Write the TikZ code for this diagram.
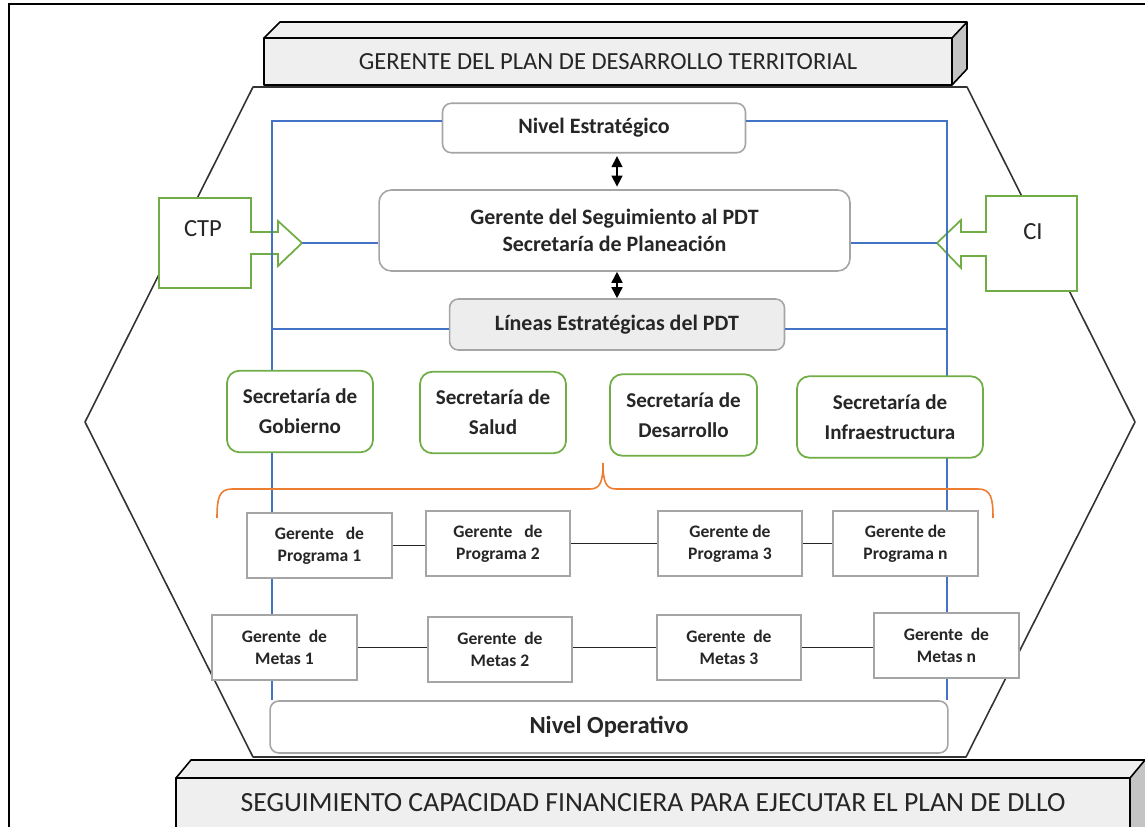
\documentclass[tikz,border=0pt]{standalone}
\usepackage{fontspec}
\setmainfont{Carlito}
\usepackage{xcolor}
\usetikzlibrary{arrows.meta,positioning,calc}

\definecolor{lineblue}{HTML}{4472C4}
\definecolor{boxgreen}{HTML}{70AD47}
\definecolor{braceorange}{HTML}{ED7D31}
\definecolor{boxgray}{HTML}{A5A5A5}
\definecolor{fillgray}{HTML}{EDEDED}
\definecolor{barfill}{HTML}{EFEFEF}
\definecolor{barside}{HTML}{C4C4C4}
\definecolor{textdark}{HTML}{262626}

\begin{document}
\begin{tikzpicture}[
    x=0.02cm, y=-0.02cm,
    text=textdark,
    level/.style={rectangle, draw=boxgray, line width=0.9pt, fill=white, rounded corners=5pt,
        align=center, font=\fontsize{12.5}{15}\selectfont\bfseries, inner sep=0pt},
    secbox/.style={rectangle, draw=boxgreen, line width=1pt, fill=white, rounded corners=7pt,
        align=center, font=\fontsize{12}{17}\selectfont\bfseries, minimum height=1.63cm, inner sep=0pt},
    gerbox/.style={rectangle, draw=boxgray, line width=0.9pt, fill=white,
        align=center, font=\fontsize{10}{12.5}\selectfont\bfseries, minimum width=2.89cm, minimum height=1.3cm, inner sep=0pt},
    bartext/.style={font=\fontsize{14}{16}\selectfont, inner sep=0pt},
    barline/.style={draw=black, line width=0.9pt, line join=round},
    blueline/.style={lineblue, line width=0.7pt},
    link/.style={black!85, line width=0.9pt},
    inarrow/.style={draw=boxgreen, line width=1pt, fill=white},
    dblarrow/.style={{Triangle[length=2.2mm,width=2.2mm]}-{Triangle[length=2.2mm,width=2.2mm]}, line width=0.9pt, black}
]
\useasboundingbox (0,0) rectangle (1145,827);
\clip (0,0) rectangle (1145,827);

% frame and hexagon
\draw[line width=1.4pt] (9,827) -- (9,4) -- (1145,4);
\draw[black!80, line width=0.9pt, line join=round]
    (253,87) -- (967,87) -- (1135,422) -- (966,757) -- (253,757) -- (85,422) -- cycle;

% top bar
\fill[barfill] (264,38) -- (280,22) -- (967,22) -- (952,38) -- cycle;
\fill[barside] (952,38) -- (967,22) -- (967,69) -- (952,85) -- cycle;
\draw[barline, fill=barfill] (264,38) rectangle (952,85);
\draw[barline] (264,38) -- (280,22) -- (967,22) -- (967,69) -- (952,85);
\draw[barline] (952,38) -- (967,22);
\node[bartext] (topbar) at (608,62) {GERENTE DEL PLAN DE DESARROLLO TERRITORIAL};

% bottom bar
\fill[barfill] (176,778) -- (191,760) -- (1145,760) -- (1130,778) -- cycle;
\fill[barside] (1130,778) -- (1145,760) -- (1145,840) -- (1130,840) -- cycle;
\draw[barline, fill=barfill] (176,778) rectangle (1130,840);
\draw[barline] (176,778) -- (191,760) -- (1145,760);
\draw[barline] (1130,778) -- (1145,760);
\node[bartext, font=\fontsize{15.8}{18}\selectfont] (botbar) at (653,803)
    {SEGUIMIENTO CAPACIDAD FINANCIERA PARA EJECUTAR EL PLAN DE DLLO};

% CTP and CI
\draw[inarrow] (159,198) -- (251,198) -- (251,232) -- (278,232) -- (278,221) -- (302,243)
    -- (278,266) -- (278,254) -- (251,254) -- (251,288) -- (159,288) -- cycle;
\draw[inarrow] (1077,196) -- (986,196) -- (986,232) -- (961,232) -- (961,220) -- (937,243)
    -- (961,268) -- (961,256) -- (986,256) -- (986,291) -- (1077,291) -- cycle;
\node[bartext] (ctp) at (203,229) {CTP};
\node[bartext] (ci) at (1033,232) {CI};
\coordinate (ctptip) at (302,243);
\coordinate (citip) at (937,243);

% levels
\node[level, minimum width=6.06cm, minimum height=0.99cm] (nivel) at (594,128) {Nivel Estratégico};
\node[level, minimum width=9.42cm, minimum height=1.62cm, rounded corners=7pt] (gerente) at (614.5,230.5)
    {Gerente del Seguimiento al PDT\\Secretaría de Planeación};
\node[level, fill=fillgray, minimum width=6.7cm, minimum height=1.02cm] (lineas) at (617,324.5)
    {Líneas Estratégicas del PDT};
\node[level, minimum width=13.56cm, minimum height=1.04cm, font=\fontsize{14}{16}\selectfont\bfseries]
    (operativo) at (609,727) {Nivel Operativo};

% blue frame lines
\coordinate (tl) at (272,121);
\coordinate (tr) at (947,121);
\coordinate (ll) at (272,329);
\coordinate (lr) at (947,329);
\draw[blueline] (nivel.west |- tl) -- (tl) -- (operativo.north -| tl);
\draw[blueline] (nivel.east |- tr) -- (tr) -- (operativo.north -| tr);
\draw[blueline] (ctptip) -- (gerente.west |- ctptip);
\draw[blueline] (gerente.east |- citip) -- (citip);
\draw[blueline] (ll) -- (lineas.west |- ll);
\draw[blueline] (lineas.east |- lr) -- (lr);

% arrows between levels
\coordinate (ax) at (617,0);
\draw[dblarrow, shorten <=1.5pt, shorten >=1.5pt] (nivel.south -| ax) -- (gerente.north -| ax);
\draw[dblarrow] (gerente.south -| ax) -- (lineas.north -| ax);

% secretarias
\node[secbox, minimum width=2.92cm] (gob) at (300,411.5) {Secretaría de\\Gobierno};
\node[secbox, minimum width=2.92cm] (sal) at (493,412.5) {Secretaría de\\Salud};
\node[secbox, minimum width=2.94cm] (des) at (683.5,415) {Secretaría de\\Desarrollo};
\node[secbox, minimum width=3.72cm] (inf) at (890,417) {Secretaría de\\Infraestructura};

% brace
\draw[braceorange, line width=0.9pt] (217,518) .. controls (217,498) and (219,489) .. (232,489)
    -- (590,489) .. controls (600,489) and (603,482) .. (603,463)
    .. controls (603,482) and (606,489) .. (616,489)
    -- (978,489) .. controls (991,489) and (993,498) .. (993,518);

% gerentes de programa
\node[gerbox] (prog1) at (319.5,545.5) {Gerente\ \ \ de\\Programa 1};
\node[gerbox] (prog2) at (498,543.5) {Gerente\ \ \ de\\Programa 2};
\node[gerbox] (prog3) at (730,543.5) {Gerente de\\Programa 3};
\node[gerbox] (progn) at (905.5,543.5) {Gerente de\\Programa n};
\draw[link] (prog1.east) -- (prog2.west |- prog1.east);
\draw[link] (prog2.east) -- (prog3.west);
\draw[link] (prog3.east) -- (progn.west);

% gerentes de metas
\node[gerbox] (meta1) at (284.5,647.5) {Gerente\ \ de\\Metas 1};
\node[gerbox] (meta2) at (500,649.5) {Gerente\ \ de\\Metas 2};
\node[gerbox] (meta3) at (729,647.5) {Gerente\ \ de\\Metas 3};
\node[gerbox] (metan) at (946.5,645.5) {Gerente\ \ de\\Metas n};
\draw[link] (meta1.east) -- (meta2.west |- meta1.east);
\draw[link] (meta2.east |- meta1.east) -- (meta3.west);
\draw[link] (meta3.east) -- (metan.west |- meta3.east);
\end{tikzpicture}
\end{document}
